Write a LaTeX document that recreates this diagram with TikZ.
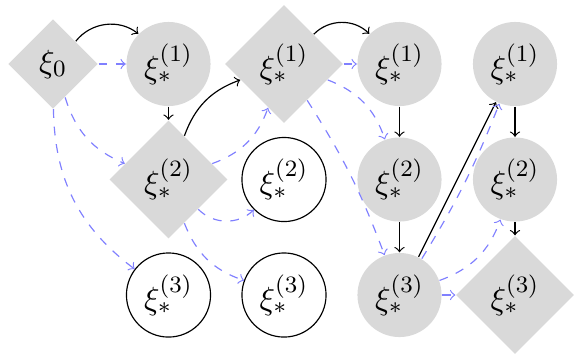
\documentclass[tikz,border=0pt]{standalone}
\usetikzlibrary{shapes.geometric}
\begin{document}
\begin{tikzpicture}[x=0.3413pt,y=0.3413pt,
  every node/.style={font=\fontsize{11}{13}\selectfont,inner sep=0pt},
  gd/.style={diamond,fill=gray!30,minimum size=40.3pt},
  gds/.style={diamond,fill=gray!30,minimum size=30.7pt},
  gc/.style={circle,fill=gray!30,minimum size=28.7pt},
  wc/.style={circle,draw,minimum size=28.7pt},
  blk/.style={->},
  blu/.style={->,dashed,blue!50}]
\useasboundingbox (0,0) rectangle (576,-356);
\node[gds] (x0) at (53,-64) {$\xi_0$};
\node[gc] (a1) at (168.5,-64) {$\xi_*^{(1)}$};
\node[gd] (a2) at (168.5,-179.5) {$\xi_*^{(2)}$};
\node[wc] (a3) at (168.5,-295) {$\xi_*^{(3)}$};
\node[gd] (b1) at (284,-64) {$\xi_*^{(1)}$};
\node[wc] (b2) at (284,-179.5) {$\xi_*^{(2)}$};
\node[wc] (b3) at (284,-295) {$\xi_*^{(3)}$};
\node[gc] (c1) at (399.5,-64) {$\xi_*^{(1)}$};
\node[gc] (c2) at (399.5,-179.5) {$\xi_*^{(2)}$};
\node[gc] (c3) at (399.5,-295) {$\xi_*^{(3)}$};
\node[gc] (d1) at (515,-64) {$\xi_*^{(1)}$};
\node[gc] (d2) at (515,-179.5) {$\xi_*^{(2)}$};
\node[gd] (d3) at (515,-295) {$\xi_*^{(3)}$};
% black edges
\draw[blk] (x0) to[bend left=45] (a1);
\draw[blk] (a1) -- (a2);
\draw[blk] (a2) to[bend left=25] (b1);
\draw[blk] (b1) to[bend left=45] (c1);
\draw[blk] (c1) -- (c2);
\draw[blk] (c2) -- (c3);
\draw[blk] (c3) -- (d1);
\draw[blk] (d1) -- (d2);
\draw[blk] (d2) -- (d3);
% blue dashed edges
\draw[blu] (x0) -- (a1);
\draw[blu] (x0) to[bend right=25] (a2);
\draw[blu] (x0) to[bend right=26] (a3);
\draw[blu] (a2) to[bend right=25] (b1);
\draw[blu] (a2) to[bend right=45] (b2);
\draw[blu] (a2) to[bend right=25] (b3);
\draw[blu] (b1) -- (c1);
\draw[blu] (b1) to[bend left=25] (c2);
\draw[blu] (b1) to[bend left=6] (c3);
\draw[blu] (c3) to[bend right=5] (d1);
\draw[blu] (c3) to[bend right=25] (d2);
\draw[blu] (c3) -- (d3);
\end{tikzpicture}
\end{document}
